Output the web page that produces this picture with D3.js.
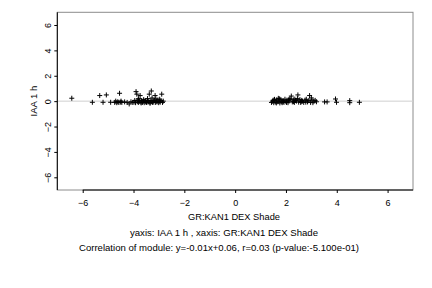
<!DOCTYPE html>
<html>
<head>
<meta charset="utf-8">
<script src="https://cdn.jsdelivr.net/npm/d3@7"></script>
<style>
  body { margin: 0; background: #fff; }
  text { font-family: "Liberation Sans", Arial, sans-serif; fill: #000; }
</style>
</head>
<body>
<div class="chart"></div>
<script>
// module points, left group
var leftX = [-6.43, -5.62, -5.33, -5.2, -5.07, -4.9, -4.74, -4.7, -4.66, -4.62, -4.58, -4.55, -4.52, -4.49, -4.46,
             -4.35, -4.25, -4.17, -4.1, -4.03, -3.98, -3.95, -3.92, -3.9, -3.87, -3.85, -3.82, -3.8, -3.77, -3.74,
             -3.71, -3.68, -3.65, -3.62, -3.58, -3.55, -3.52, -3.49, -3.46, -3.43, -3.4, -3.38, -3.35, -3.32,
             -3.3, -3.28, -3.25, -3.22, -3.2, -3.17, -3.15, -3.13, -3.1, -3.07, -3.04, -3.01, -2.98, -2.95,
             -2.92, -2.89, -2.86, -2.83, -3.6, -3.45, -3.27, -3.12, -2.97, -3.8, -3.7, -3.35];
var leftY = [0.23, -0.09, 0.44, -0.09, 0.49, -0.09, -0.1, 0.0, -0.12, -0.05, -0.1, 0.62, -0.08, 0.0, -0.1,
             -0.06, -0.1, -0.22, -0.05, -0.1, -0.08, 0.05, -0.12, 0.75, 0.55, -0.05, 0.1, -0.1, 0.0, 0.44,
             -0.08, 0.05, -0.1, 0.0, -0.12, 0.02, -0.06, -0.1, 0.04, -0.08, 0.0, 0.55, -0.12, 0.05,
             0.8, -0.05, -0.1, 0.02, -0.08, 0.06, 0.44, -0.1, 0.0, -0.06, 0.1, -0.12, 0.0, -0.08,
             0.04, 0.55, -0.1, 0.0, 0.12, 0.2, 0.25, 0.18, 0.15, 0.2, -0.14, -0.16];

// module points, right group
var rightX = [1.43, 1.47, 1.52, 1.56, 1.6, 1.64, 1.68, 1.72, 1.76, 1.8, 1.84, 1.88, 1.92, 1.96, 2.0,
              2.04, 2.08, 2.12, 2.16, 2.21, 2.25, 2.29, 2.33, 2.37, 2.41, 2.47, 2.5, 2.55, 2.6, 2.65,
              2.7, 2.75, 2.8, 2.85, 2.9, 2.93, 2.97, 3.02, 3.06, 3.1, 3.15, 3.2, 3.52, 3.62, 3.95,
              3.99, 4.51, 4.51, 4.89, 1.5, 1.62, 1.75, 1.9, 2.02, 2.15, 2.3, 2.45, 2.62, 2.78, 3.0,
              1.55, 1.7, 1.85, 2.1, 2.35, 2.58];
var rightY = [-0.1, 0.0, -0.12, 0.05, -0.08, 0.1, -0.05, 0.0, -0.14, 0.12, -0.06, 0.04, -0.1, 0.15, -0.04,
              0.08, -0.12, 0.02, 0.2, 0.4, -0.06, 0.1, -0.1, 0.05, 0.0, 0.49, -0.08, 0.12, -0.04, 0.0,
              -0.1, 0.08, 0.15, -0.06, 0.04, 0.44, -0.1, 0.1, -0.12, 0.0, 0.06, -0.05, -0.06, -0.06, 0.17,
              -0.09, 0.04, -0.12, -0.09, 0.08, -0.14, 0.18, 0.0, -0.1, 0.12, -0.04, 0.2, 0.06, -0.08, 0.25,
              0.14, 0.22, -0.12, 0.1, 0.16, -0.1];

var xTicks = [-6, -4, -2, 0, 2, 4, 6];
var yTicks = [-6, -4, -2, 0, 2, 4, 6];

var xTitle = "GR:KAN1 DEX Shade";
var yTitle = "IAA 1 h";
var subTitle = "yaxis: IAA 1 h , xaxis: GR:KAN1 DEX Shade";
var corrText = "Correlation of module: y=-0.01x+0.06, r=0.03 (p-value:-5.100e-01)";

var width = 432, height = 288;
var mLeft = 57.3, mRight = 413, mTop = 12.3, mBottom = 190;

var svg = d3.select(".chart").append("svg")
    .attr("width", width)
    .attr("height", height);

var x = d3.scaleLinear().domain([-7, 7]).range([mLeft, mRight]);
var y = d3.scaleLinear().domain([-7, 7]).range([mBottom, mTop]);

// grey frame
svg.append("rect")
    .attr("x", mLeft).attr("y", mTop)
    .attr("width", mRight - mLeft).attr("height", mBottom - mTop)
    .style("fill", "none").style("stroke", "#8c8c8c").style("stroke-width", 1);

// zero line
svg.append("line")
    .attr("x1", mLeft).attr("x2", mRight)
    .attr("y1", y(0)).attr("y2", y(0))
    .style("stroke", "#cfcfcf").style("stroke-width", 1);

// axes
var xAxis = svg.append("g")
    .attr("transform", "translate(0," + mBottom + ")")
    .call(d3.axisBottom(x).tickValues(xTicks).tickSize(3).tickPadding(7).tickFormat(d3.format("d")));
xAxis.select(".domain").remove();
xAxis.append("line")
    .attr("x1", x(-6)).attr("x2", mRight)
    .style("stroke", "#000");
xAxis.selectAll("text").style("font-size", "9px").style("font-family", "Liberation Sans, Arial, sans-serif");

var yAxis = svg.append("g")
    .attr("transform", "translate(" + mLeft + ",0)")
    .call(d3.axisLeft(y).tickValues(yTicks).tickSize(3).tickFormat(d3.format("d")));
yAxis.select(".domain").remove();
yAxis.append("line")
    .attr("y1", mTop).attr("y2", mBottom)
    .style("stroke", "#000");
yAxis.selectAll(".tick text")
    .attr("x", null).attr("dy", null)
    .attr("transform", "translate(-6,0) rotate(-90)")
    .attr("text-anchor", "middle")
    .style("font-size", "9px").style("font-family", "Liberation Sans, Arial, sans-serif");

// points
var pts = [];
for (var i = 0; i < leftX.length; i++) pts.push([leftX[i], leftY[i]]);
for (var j = 0; j < rightX.length; j++) pts.push([rightX[j], rightY[j]]);

svg.selectAll(".pt").data(pts)
    .enter()
    .append("path")
    .attr("class", "pt")
    .attr("d", function (d) {
        var cx = x(d[0]), cy = y(d[1]), r = 2.5;
        return "M" + (cx - r) + "," + cy + "H" + (cx + r) + "M" + cx + "," + (cy - r) + "V" + (cy + r);
    })
    .style("stroke", "#000").style("stroke-width", 1).style("fill", "none");

// titles
svg.append("text")
    .attr("x", 234).attr("y", 219.5)
    .attr("text-anchor", "middle")
    .attr("textLength", 92).attr("lengthAdjust", "spacingAndGlyphs")
    .style("font-size", "9.5px")
    .text(xTitle);

svg.append("text")
    .attr("transform", "translate(36.5," + y(0) + ") rotate(-90)")
    .attr("text-anchor", "middle")
    .style("font-size", "9.5px")
    .text(yTitle);

svg.append("text")
    .attr("x", 224).attr("y", 235.5)
    .attr("text-anchor", "middle")
    .attr("textLength", 188).attr("lengthAdjust", "spacingAndGlyphs")
    .style("font-size", "9.5px")
    .text(subTitle);

svg.append("text")
    .attr("x", 219).attr("y", 251)
    .attr("text-anchor", "middle")
    .attr("textLength", 280).attr("lengthAdjust", "spacingAndGlyphs")
    .style("font-size", "9.5px")
    .text(corrText);
</script>
</body>
</html>
